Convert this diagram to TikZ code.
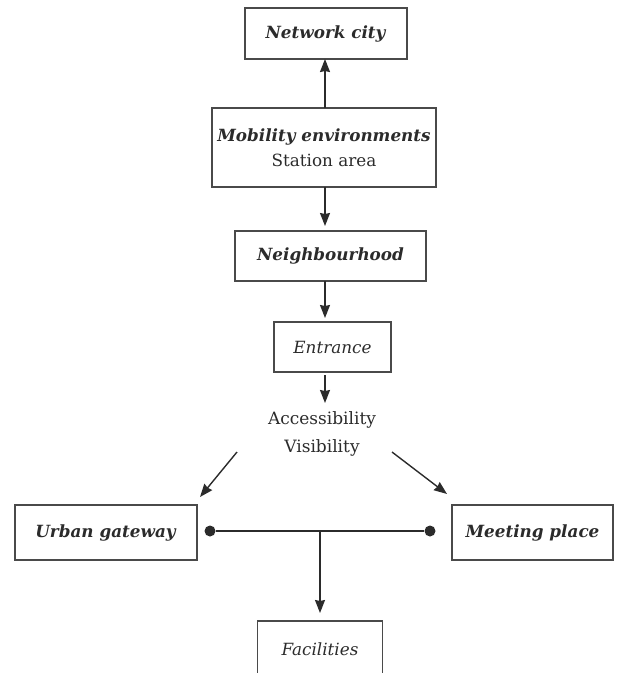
\documentclass[tikz,border=0pt]{standalone}
\usepackage{fontspec}
\setmainfont{DejaVu Serif}
\usepackage{xcolor}
\usepackage{tikz}
\usetikzlibrary{arrows.meta}
\definecolor{ink}{HTML}{2B2B2B}
\definecolor{frame}{HTML}{4A4A4A}
\tikzset{
  box/.style={draw=frame, line width=1.5pt, text=ink, inner sep=0pt, align=center,
              font=\fontsize{16.8}{25}\selectfont},
  flow/.style={draw=ink, line width=1.4pt, -{Stealth[length=13pt,width=10pt,inset=1pt]}},
  link/.style={draw=ink, line width=1.4pt},
  dot/.style={circle, fill=ink, inner sep=0pt, minimum size=11pt},
  lab/.style={text=ink, align=center, font=\fontsize{17}{28}\selectfont}
}

\begin{document}
\begin{tikzpicture}[x=1pt,y=-1pt]
  \useasboundingbox (0,0) rectangle (619,673);
  \clip (0,0) rectangle (619,673);

  % boxes of the chain
  \node[box, minimum width=162pt, minimum height=51pt] (net) at (326,33.5) {\textbf{\textit{Network city}}};
  \node[box, minimum width=224pt, minimum height=79pt] (mob) at (324,147.5)
    {\textbf{\textit{Mobility environments}}\\Station area};
  \node[box, minimum width=191pt, minimum height=50pt] (nbh) at (330.5,256) {\textbf{\textit{Neighbourhood}}};
  \node[box, minimum width=117pt, minimum height=50pt] (ent) at (332.5,347) {\textit{Entrance}};
  \node[lab] (acc) at (322,434) {Accessibility\\Visibility};

  \node[box, minimum width=182pt, minimum height=55pt] (urb) at (106,532.5) {\textbf{\textit{Urban gateway}}};
  \node[box, minimum width=161pt, minimum height=55pt] (meet) at (532.5,532.5) {\textbf{\textit{Meeting place}}};
  \node[box, minimum width=125pt, minimum height=57pt] (fac) at (320,649.5) {\textit{Facilities}};

  % vertical arrows
  \draw[flow] (325,108) -- (325,59);
  \draw[flow] (325,187) -- (325,226);
  \draw[flow] (325,281) -- (325,318);
  \draw[flow] (325,375) -- (325,403);

  % split to the two sides
  \coordinate (accL) at (237,452);
  \coordinate (accR) at (392,452);
  \coordinate (urbT) at (200,497);
  \coordinate (meetT) at (447,494);
  \draw[flow] (accL) -- (urbT);
  \draw[flow] (accR) -- (meetT);

  % link between gateway and meeting place
  \node[dot] (dl) at (210,531) {};
  \node[dot] (dr) at (430,531) {};
  \draw[link] (dl) -- (dr);
  \coordinate (mid) at (320,531);
  \draw[flow] (mid) -- (320,613);
\end{tikzpicture}
\end{document}
